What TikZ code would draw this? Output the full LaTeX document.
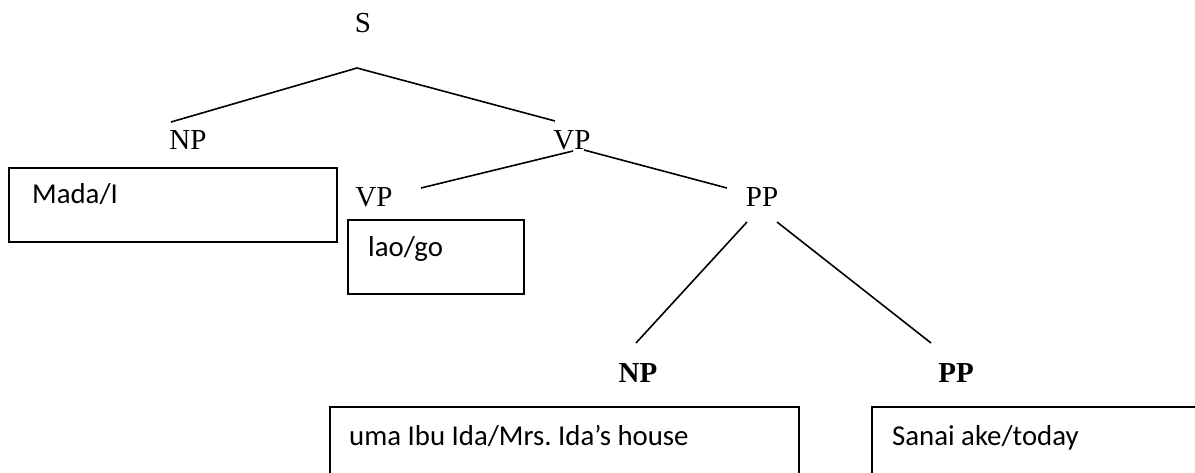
\documentclass[tikz,border=0pt]{standalone}
\usepackage{fontspec}
\setmainfont{Liberation Serif}
\newfontfamily\boxfont{Carlito}
\frenchspacing
\begin{document}
\begin{tikzpicture}[x=1pt,y=-1pt,
  cat/.style={inner sep=0pt, anchor=base, font=\fontsize{29}{34}\selectfont},
  boldcat/.style={cat, font=\fontsize{29}{34}\selectfont\bfseries},
  gloss/.style={inner sep=0pt, anchor=base west, font=\boxfont\fontsize{28.8}{34}\selectfont},
  branch/.style={line width=1.6pt},
  frame/.style={draw, line width=1.6pt, inner sep=0pt, anchor=north west}]
\clip (0,0) rectangle (1195,473);
\fill[white] (0,0) rectangle (1195,473);

% category labels
\node[cat] (S) at (363,33) {S};
\node[cat] (NPa) at (188,150) {NP};
\node[cat] (VPa) at (572,150) {VP};
\node[cat] (VPb) at (374,207) {VP};
\node[cat] (PPa) at (762,207) {PP};
\node[boldcat] (NPb) at (638,382) {NP};
\node[boldcat] (PPb) at (956,382) {PP};

% branch end points
\coordinate (s-top) at (357,68);
\coordinate (s-l) at (171,122);
\coordinate (s-r) at (555,121);
\coordinate (vp-tl) at (573,151);
\coordinate (vp-tr) at (584,150);
\coordinate (vp-l) at (421,188);
\coordinate (vp-r) at (727,188);
\coordinate (pp-tl) at (747,222);
\coordinate (pp-tr) at (777,222);
\coordinate (pp-l) at (636,343);
\coordinate (pp-r) at (931,343);

\draw[branch] (s-l) -- (s-top) -- (s-r);
\draw[branch] (vp-tl) -- (vp-l);
\draw[branch] (vp-tr) -- (vp-r);
\draw[branch] (pp-tl) -- (pp-l);
\draw[branch] (pp-tr) -- (pp-r);

% word boxes
\node[frame, minimum width=328pt, minimum height=74pt] (madabox) at (8,167) {};
\node[gloss] (mada) at (32,204) {Mada/I};
\node[frame, minimum width=176pt, minimum height=74pt] (laobox) at (347,219) {};
\node[gloss] (lao) at (368,257) {lao/go};
\node[frame, minimum width=469pt, minimum height=90pt] (umabox) at (329,406) {};
\node[gloss] (uma) at (349,445) {uma Ibu Ida/Mrs. Ida’s house};
\node[frame, minimum width=360pt, minimum height=90pt] (sanaibox) at (871,406) {};
\node[gloss] (sanai) at (892,445) {Sanai ake/today};
\end{tikzpicture}
\end{document}
